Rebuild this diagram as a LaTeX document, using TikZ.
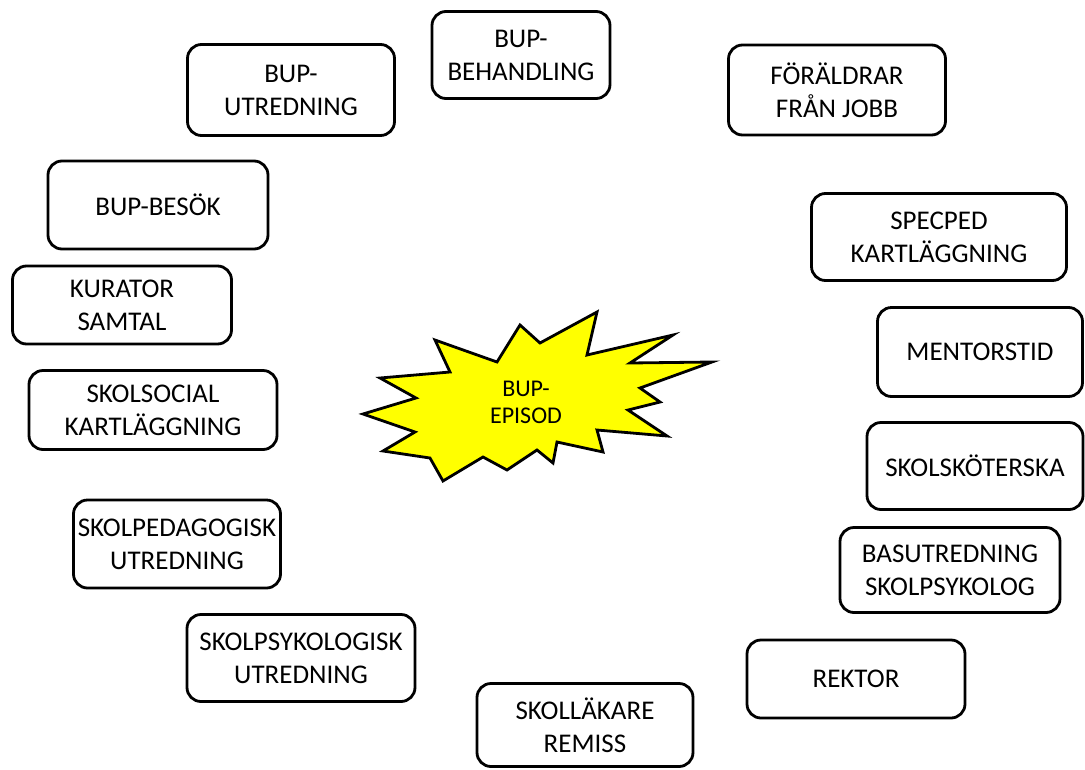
\documentclass[tikz,border=0pt]{standalone}
\usepackage{fontspec}
\setmainfont{Carlito}
\usepackage{xcolor}
\definecolor{starfill}{RGB}{255,255,0}
\tikzstyle{box} = [rectangle, rounded corners=14pt, draw=black, line width=2.8pt, fill=white, text centered, align=center, inner sep=2pt, font=\fontsize{27}{33}\selectfont]
\tikzstyle{burst} = [draw=black, line width=2.8pt, fill=starfill, line join=miter]

\begin{document}
\begin{tikzpicture}[x=1pt, y=-1pt]
    \useasboundingbox (0,0) rectangle (1085,769);

    % the star in the middle
    \draw [burst] (363,414) -- (416,398) -- (380,378) -- (450,372) -- (435,340)
        -- (497,362) -- (520,325) -- (540,343) -- (597,312) -- (587,355)
        -- (673,335) -- (630,363) -- (712,362) -- (640,388) -- (660,402)
        -- (628,410) -- (667,436) -- (597,430) -- (603,452) -- (557,442)
        -- (553,463) -- (537,450) -- (507,470) -- (483,457) -- (443,481)
        -- (430,458) -- (383,451) -- (415,432) -- cycle;
    \node (episod) [align=center, font=\fontsize{24}{27}\selectfont] at (526,402) {BUP-\\EPISOD};

    % left side
    \node (bupbeh) [box, minimum width=178, minimum height=87] at (521,55) {BUP-\\BEHANDLING};
    \node (buputr) [box, minimum width=207, minimum height=91] at (291,90) {BUP-\\UTREDNING};
    \node (besok) [box, minimum width=220, minimum height=88] at (158,205) {BUP-BESÖK};
    \node (kurator) [box, minimum width=219, minimum height=78] at (122,305) {KURATOR\\SAMTAL};
    \node (skolsoc) [box, minimum width=248, minimum height=79] at (153,410) {SKOLSOCIAL\\KARTLÄGGNING};
    \node (skolped) [box, minimum width=207, minimum height=88] at (177,544) {SKOLPEDAGOGISK\\UTREDNING};
    \node (skolpsy) [box, minimum width=228, minimum height=87] at (301,658) {SKOLPSYKOLOGISK\\UTREDNING};
    \node (skollak) [box, minimum width=216, minimum height=83] at (585,725) {SKOLLÄKARE\\REMISS};

    % right side
    \node (foraldrar) [box, minimum width=217, minimum height=90] at (837,90) {FÖRÄLDRAR\\FRÅN JOBB};
    \node (specped) [box, minimum width=255, minimum height=87] at (939,237) {SPECPED\\KARTLÄGGNING};
    \node (mentor) [box, minimum width=205, minimum height=89] at (980,352) {MENTORSTID};
    \node (skoter) [box, minimum width=216, minimum height=87] at (975,466) {SKOLSKÖTERSKA};
    \node (basutr) [box, minimum width=220, minimum height=85] at (950,570) {BASUTREDNING\\SKOLPSYKOLOG};
    \node (rektor) [box, minimum width=218, minimum height=78] at (856,679) {REKTOR};
\end{tikzpicture}
\end{document}
